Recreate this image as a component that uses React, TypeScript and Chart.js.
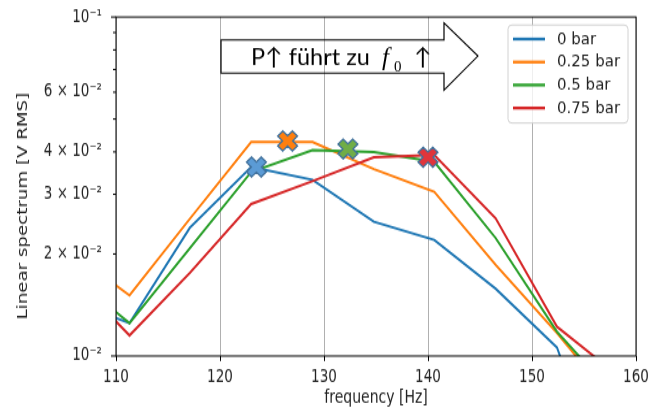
import { useEffect, useRef } from 'react';
import { Chart, registerables } from 'chart.js';

Chart.register(...registerables);

// ---------- data ----------
const FREQ = [105.4, 111.3, 117.1, 123.0, 128.9, 134.8, 140.6, 146.5, 152.4, 158.2];
const SERIES_LABELS = ['0 bar', '0.25 bar', '0.5 bar', '0.75 bar'];
const S_0 = [0.0146, 0.0125, 0.0239, 0.0361, 0.0331, 0.0249, 0.022, 0.0158, 0.0106, 0.0034];
const S_025 = [0.0205, 0.0151, 0.0254, 0.0428, 0.0428, 0.0356, 0.0305, 0.0186, 0.0117, 0.0071];
const S_05 = [0.0176, 0.0125, 0.0208, 0.0349, 0.0405, 0.04, 0.0374, 0.0223, 0.0118, 0.0075];
const S_075 = [0.0177, 0.0115, 0.0176, 0.0281, 0.0328, 0.0386, 0.0392, 0.0255, 0.0122, 0.0088];
const PEAK_FREQ = [123.5, 126.5, 132.3, 140.0];
const PEAK_VAL = [0.0361, 0.0431, 0.0408, 0.0386];
const X_TICKS = [110, 120, 130, 140, 150, 160];
const Y_TICKS = [0.01, 0.02, 0.03, 0.04, 0.05, 0.06, 0.07, 0.08, 0.09, 0.1];
const Y_TICK_LABELS: Record<number, string> = {
  1: '10⁻²',
  2: '2 × 10⁻²',
  3: '3 × 10⁻²',
  4: '4 × 10⁻²',
  6: '6 × 10⁻²',
  10: '10⁻¹',
};
const X_TITLE = 'frequency [Hz]';
const Y_TITLE = 'Linear spectrum [V RMS]';
const ANNOTATION_MAIN = 'P↑ führt zu';

const LINE_COLORS = ['#1f77b4', '#ff7f0e', '#2ca02c', '#d62728'];
const MARKER_COLORS = ['#5b9bd5', '#ff7f0e', '#70ad47', '#e0353b'];
const MARKER_EDGE = '#41719c';

const W = 664;
const H_INT = 314;
const K = 408 / H_INT; // vertical stretch of the picture

function drawX(ctx: CanvasRenderingContext2D, x: number, y: number, fill: string) {
  const a = 3.6;
  const L = 10.4;
  const pts = [
    [a, L], [a, a], [L, a], [L, -a], [a, -a], [a, -L],
    [-a, -L], [-a, -a], [-L, -a], [-L, a], [-a, a], [-a, L],
  ];
  const r = Math.SQRT1_2;
  ctx.save();
  ctx.translate(x, y);
  ctx.scale(1, 1 / K);
  ctx.beginPath();
  pts.forEach(([px, py], i) => {
    const qx = (px - py) * r;
    const qy = (px + py) * r;
    if (i === 0) ctx.moveTo(qx, qy);
    else ctx.lineTo(qx, qy);
  });
  ctx.closePath();
  ctx.fillStyle = fill;
  ctx.fill();
  ctx.lineWidth = 1.5;
  ctx.strokeStyle = MARKER_EDGE;
  ctx.stroke();
  ctx.restore();
}

const overlayPlugin = {
  id: 'overlay',
  afterDatasetsDraw(chart: any) {
    const ctx: CanvasRenderingContext2D = chart.ctx;
    const { left, right, top, bottom } = chart.chartArea;

    // frame
    ctx.save();
    ctx.strokeStyle = '#000';
    ctx.lineWidth = 1;
    ctx.strokeRect(left, top, right - left, bottom - top);
    // y tick marks
    const ys = chart.scales.y;
    Y_TICKS.forEach((v) => {
      const py = ys.getPixelForValue(v);
      const major = Math.round(v * 100) === 1 || Math.round(v * 100) === 10;
      const len = major ? 5 : 3;
      ctx.beginPath();
      ctx.moveTo(left - len, py);
      ctx.lineTo(left, py);
      ctx.stroke();
    });
    ctx.restore();

    // peak markers
    chart.data.datasets.forEach((ds: any, i: number) => {
      if (!ds.isPeak) return;
      const meta = chart.getDatasetMeta(i);
      meta.data.forEach((pt: any) => drawX(ctx, pt.x, pt.y, ds.markerColor));
    });

    // axis titles (stretched, like the rest of the figure)
    ctx.save();
    ctx.fillStyle = '#222';
    ctx.font = '14px "DejaVu Sans"';
    ctx.textAlign = 'center';
    ctx.textBaseline = 'alphabetic';
    ctx.fillText(X_TITLE, (left + right) / 2, 403 / K);
    ctx.translate(23, 206 / K);
    ctx.rotate(-Math.PI / 2);
    ctx.textBaseline = 'middle';
    ctx.fillText(Y_TITLE, 0, 0);
    ctx.restore();

    // ---- display-coordinate overlays ----
    ctx.save();
    ctx.scale(1, 1 / K);

    // legend
    const lx = 508, ly = 25, lw = 120, lh = 98, rad = 4;
    ctx.beginPath();
    ctx.moveTo(lx + rad, ly);
    ctx.lineTo(lx + lw - rad, ly);
    ctx.quadraticCurveTo(lx + lw, ly, lx + lw, ly + rad);
    ctx.lineTo(lx + lw, ly + lh - rad);
    ctx.quadraticCurveTo(lx + lw, ly + lh, lx + lw - rad, ly + lh);
    ctx.lineTo(lx + rad, ly + lh);
    ctx.quadraticCurveTo(lx, ly + lh, lx, ly + lh - rad);
    ctx.lineTo(lx, ly + rad);
    ctx.quadraticCurveTo(lx, ly, lx + rad, ly);
    ctx.closePath();
    ctx.fillStyle = 'rgba(255,255,255,0.8)';
    ctx.fill();
    ctx.strokeStyle = '#cccccc';
    ctx.lineWidth = 1;
    ctx.stroke();
    const rows = [39, 62, 85, 108];
    chart.data.datasets.forEach((ds: any, i: number) => {
      if (ds.isPeak) return;
      const ry = rows[i];
      ctx.beginPath();
      ctx.moveTo(513, ry);
      ctx.lineTo(545, ry);
      ctx.strokeStyle = ds.borderColor;
      ctx.lineWidth = 3;
      ctx.stroke();
      ctx.fillStyle = '#222';
      ctx.font = '15px "DejaVu Sans"';
      ctx.textAlign = 'left';
      ctx.textBaseline = 'middle';
      ctx.fillText(ds.label, 557, ry + 1);
    });

    // arrow annotation
    ctx.beginPath();
    ctx.moveTo(221, 40);
    ctx.lineTo(444, 40);
    ctx.lineTo(444, 23);
    ctx.lineTo(478, 56);
    ctx.lineTo(444, 90);
    ctx.lineTo(444, 73);
    ctx.lineTo(221, 73);
    ctx.closePath();
    ctx.strokeStyle = '#000';
    ctx.lineWidth = 1.2;
    ctx.stroke();

    ctx.fillStyle = '#000';
    ctx.textAlign = 'left';
    ctx.textBaseline = 'alphabetic';
    ctx.font = '100px Lato, "DejaVu Sans"';
    const wMain = ctx.measureText(ANNOTATION_MAIN).width;
    const sz = (100 * 119) / wMain;
    ctx.font = `${sz}px Lato, "DejaVu Sans"`;
    ctx.fillText(ANNOTATION_MAIN, 251, 65);
    ctx.font = 'italic 25px "Liberation Serif"';
    ctx.fillText('f', 382, 65);
    ctx.font = '15px "Liberation Serif"';
    ctx.fillText('0', 394, 71);
    ctx.font = `${sz}px Lato, "DejaVu Sans"`;
    ctx.fillText('↑', 414, 65);

    ctx.restore();
  },
};

const SERIES = [S_0, S_025, S_05, S_075];

export default function App() {
  const ref = useRef<HTMLCanvasElement | null>(null);

  useEffect(() => {
    if (!ref.current) return;
    const lineSets = SERIES.map((vals, i) => ({
      type: 'line' as const,
      label: SERIES_LABELS[i],
      data: FREQ.map((f, j) => ({ x: f, y: vals[j] })),
      borderColor: LINE_COLORS[i],
      backgroundColor: LINE_COLORS[i],
      borderWidth: 2,
      pointRadius: 0,
      tension: 0,
      fill: false,
      clip: 0,
      order: 4 - i,
    }));
    const peakSets = PEAK_FREQ.map((f, i) => ({
      type: 'scatter' as const,
      label: 'peak ' + SERIES_LABELS[i],
      data: [{ x: f, y: PEAK_VAL[i] }],
      isPeak: true,
      markerColor: MARKER_COLORS[i],
      pointRadius: 0,
      showLine: false,
      order: 0,
    }));

    const chart = new Chart(ref.current, {
      type: 'line',
      data: { datasets: [...lineSets, ...peakSets] as any },
      options: {
        animation: false,
        responsive: false,
        devicePixelRatio: 1,
        layout: { padding: { top: 17 / K, right: 28, left: 0, bottom: 0 } },
        plugins: {
          legend: { display: false },
          tooltip: { enabled: false },
          title: { display: false },
        },
        scales: {
          x: {
            type: 'linear',
            min: 110,
            max: 160,
            afterBuildTicks: (s: any) => {
              s.ticks = X_TICKS.map((v) => ({ value: v }));
            },
            afterFit: (s: any) => {
              s.height = H_INT - 356 / K;
              s.paddingLeft = 0;
              s.paddingRight = 0;
              s.paddingTop = 0;
              s.paddingBottom = 0;
            },
            grid: {
              color: '#b0b0b0',
              lineWidth: 1,
              tickColor: '#000',
              tickLength: 3.85,
              drawTicks: true,
            },
            border: { display: false },
            ticks: {
              color: '#222',
              font: { family: 'DejaVu Sans', size: 13.5 },
              padding: 5,
              maxRotation: 0,
              autoSkip: false,
            },
          },
          y: {
            type: 'logarithmic',
            min: 0.01,
            max: 0.1,
            afterBuildTicks: (s: any) => {
              s.ticks = Y_TICKS.map((v) => ({ value: v }));
            },
            afterFit: (s: any) => {
              s.width = 116;
              s.paddingTop = 0;
              s.paddingBottom = 0;
              s.paddingLeft = 0;
              s.paddingRight = 0;
            },
            grid: { display: false, drawTicks: false },
            border: { display: false },
            ticks: {
              color: '#222',
              font: { family: 'DejaVu Sans', size: 13.5 },
              padding: 14,
              autoSkip: false,
              callback: (v: any) => Y_TICK_LABELS[Math.round(Number(v) * 100)] ?? '',
            },
          },
        },
      } as any,
      plugins: [overlayPlugin],
    });
    return () => chart.destroy();
  }, []);

  return (
    <div style={{ position: 'absolute', left: 0, top: 0, width: W, height: 408, background: '#fff' }}>
      <canvas
        ref={ref}
        width={W}
        height={H_INT}
        style={{ display: 'block', width: W + 'px', height: '408px' }}
      />
    </div>
  );
}
